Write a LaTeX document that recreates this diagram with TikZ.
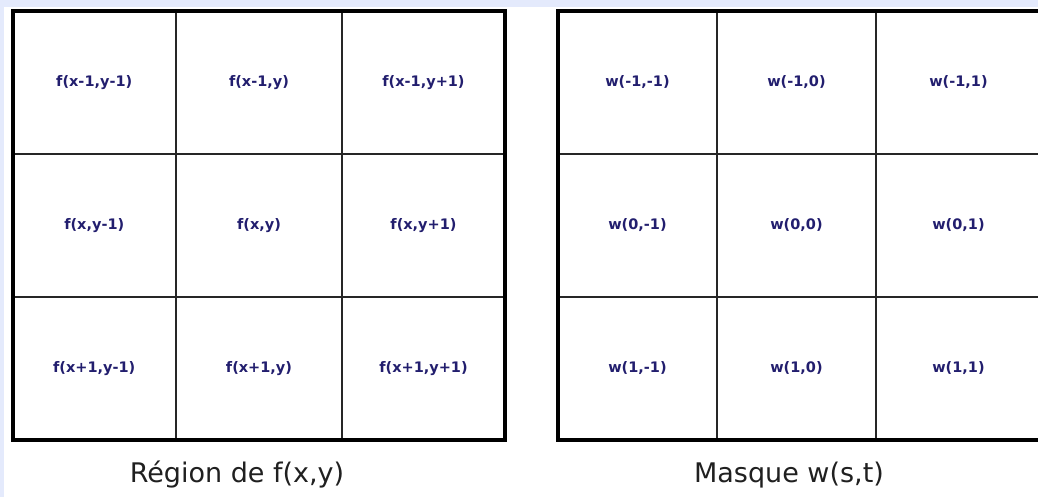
\documentclass[tikz,border=0pt]{standalone}
\usepackage{fontspec}
\setmainfont{DejaVu Sans}
\usetikzlibrary{positioning}
\definecolor{MaskNavy}{RGB}{34,30,110}
\definecolor{MaskPaleBlue}{RGB}{228,234,252}
\definecolor{MaskInk}{RGB}{32,32,32}

\begin{document}
\begin{tikzpicture}[
    x=1pt,y=-1pt,
    cell/.style={font=\bfseries\fontsize{14.5}{17}\selectfont,text=MaskNavy},
    gridline/.style={draw=black!85,line width=1.3pt},
    frame/.style={draw=black,line width=4pt},
    caption/.style={font=\fontsize{27}{32}\selectfont,text=MaskInk,anchor=base}
  ]
  \useasboundingbox (0,0) rectangle (1038,497);
  \clip (0,0) rectangle (1038,497);
  \fill[MaskPaleBlue] (0,0) rectangle (1038,497);
  \fill[white] (4,7) rectangle (1038,497);
  % region of f(x,y)
  \draw[gridline] (176,11) -- (176,440) (342,11) -- (342,440)
    (12.5,154) -- (505,154) (12.5,297) -- (505,297);
  \draw[frame] (12.5,11) rectangle (505,440);
  \foreach \r/\ry/\dr in {a/82.5/-1,b/225.5/,c/368.5/+1}
    \foreach \c/\cx/\dc in {a/94.25/-1,b/259/,c/423.5/+1}
      \node[cell] (f\r\c) at (\cx,\ry) {f(x\dr,y\dc)};
  % mask w(s,t)
  \draw[gridline] (717,11) -- (717,440) (876,11) -- (876,440)
    (558,154) -- (1041,154) (558,297) -- (1041,297);
  \draw[frame] (558,11) rectangle (1041,440);
  \foreach \r/\ry/\s in {a/82.5/-1,b/225.5/0,c/368.5/1}
    \foreach \c/\cx/\t in {a/637.5/-1,b/796.5/0,c/958.5/1}
      \node[cell] (w\r\c) at (\cx,\ry) {w(\s,\t)};
  % captions
  \node[caption] (regionlabel) at (237,482) {Région de f(x,y)};
  \node[caption] (masklabel) at (789,482) {Masque w(s,t)};
\end{tikzpicture}
\end{document}
